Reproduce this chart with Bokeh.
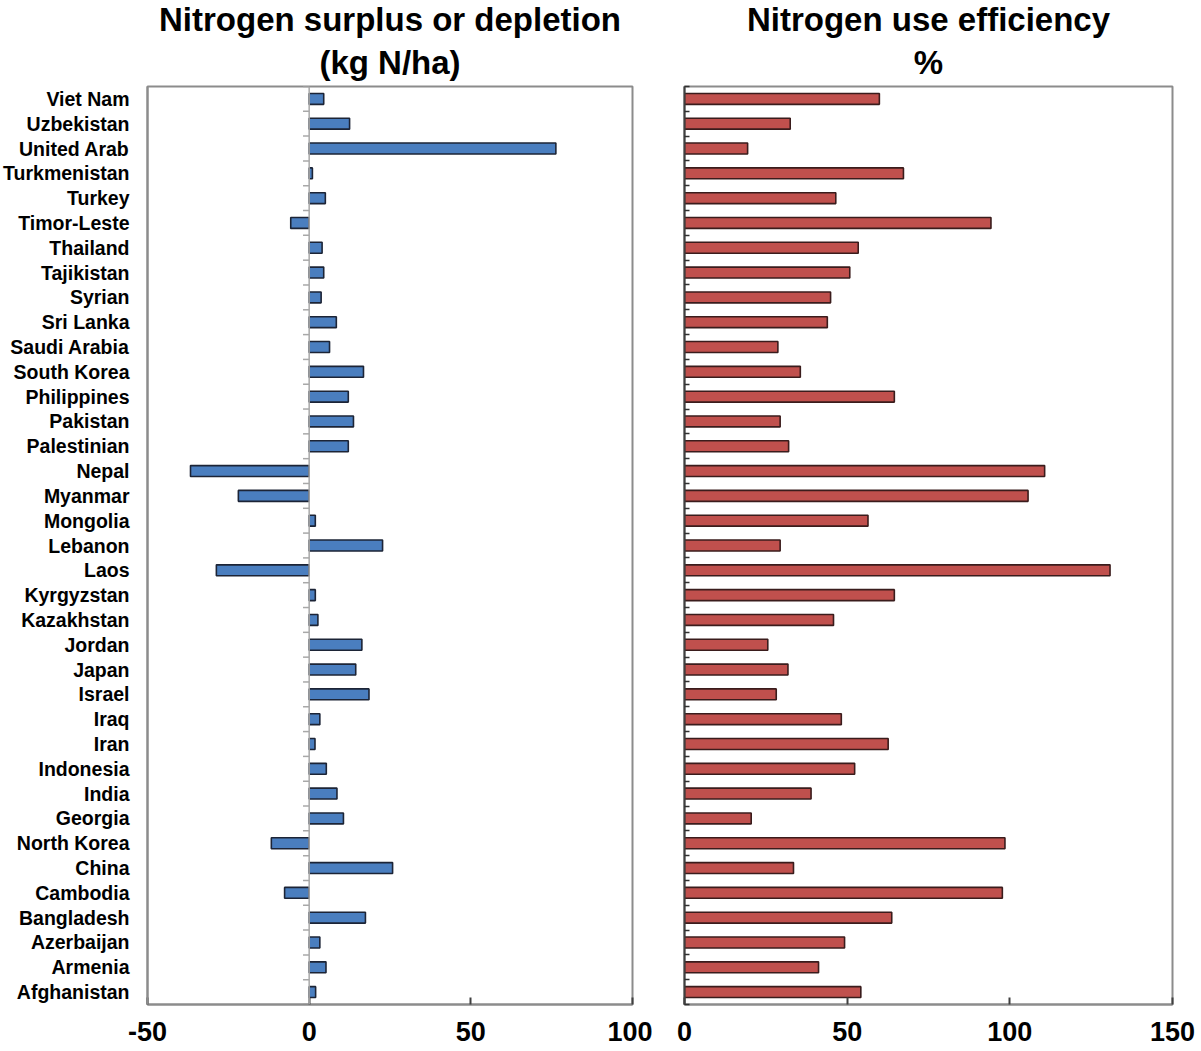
from bokeh.plotting import figure
from bokeh.layouts import row
from bokeh.models import Title, Span, FixedTicker, Range1d, ColumnDataSource
from bokeh.embed import file_html
from bokeh.resources import INLINE

# Top to bottom as shown
countries = ["Viet Nam", "Uzbekistan", "United Arab", "Turkmenistan", "Turkey", "Timor-Leste",
             "Thailand", "Tajikistan", "Syrian", "Sri Lanka", "Saudi Arabia", "South Korea",
             "Philippines", "Pakistan", "Palestinian", "Nepal", "Myanmar", "Mongolia", "Lebanon",
             "Laos", "Kyrgyzstan", "Kazakhstan", "Jordan", "Japan", "Israel", "Iraq", "Iran",
             "Indonesia", "India", "Georgia", "North Korea", "China", "Cambodia", "Bangladesh",
             "Azerbaijan", "Armenia", "Afghanistan"]

n_surplus = [4.5, 12.5, 76.3, 1.0, 5.0, -5.7, 4.0, 4.5, 3.7, 8.4, 6.3, 16.8, 12.1, 13.7, 12.1,
             -36.7, -21.9, 1.9, 22.7, -28.7, 1.9, 2.7, 16.3, 14.4, 18.5, 3.3, 1.8, 5.3, 8.6,
             10.6, -11.7, 25.8, -7.6, 17.4, 3.3, 5.2, 2.0]

n_efficiency = [59.9, 32.5, 19.4, 67.3, 46.5, 94.2, 53.4, 50.8, 44.9, 43.9, 28.7, 35.6, 64.5,
                29.4, 32.0, 110.7, 105.6, 56.4, 29.4, 130.8, 64.5, 45.8, 25.6, 31.8, 28.2, 48.2,
                62.6, 52.3, 38.9, 20.5, 98.5, 33.5, 97.7, 63.7, 49.2, 41.2, 54.2]

left_ticks = [-50, 0, 50, 100]
right_ticks = [0, 50, 100, 150]
left_tick_labels = {-50: "-50", 0: "0", 50: "50", 100: "100"}
right_tick_labels = {0: "0", 50: "50", 100: "100", 150: "150"}

left_title = ["Nitrogen surplus or depletion", "(kg N/ha)"]
right_title = ["Nitrogen use efficiency", "%"]

N = len(countries)
ypos = [N - 1 - i for i in range(N)]
bounds = [i + 0.5 for i in range(-1, N)]
labels = {ypos[i]: countries[i] for i in range(N)}

FONT = "Liberation Sans"
GRAY = "#8C8C8C"


def make_fig(xr, xticks, xlabels, titles, frame_w, border_left, border_right, show_labels):
    p = figure(width=10, height=10, frame_width=frame_w, frame_height=918,
               x_range=Range1d(*xr), y_range=Range1d(-0.5, N - 0.5),
               output_backend="svg", toolbar_location=None,
               min_border_left=border_left, min_border_right=border_right,
               min_border_top=13, min_border_bottom=0)
    p.xgrid.visible = False
    p.ygrid.visible = False
    p.outline_line_color = GRAY
    p.outline_line_width = 2
    p.background_fill_color = "white"
    p.border_fill_color = "white"

    # titles (first added is closest to frame)
    for k, t in enumerate(reversed(titles)):
        p.add_layout(Title(text=t, align="center", text_font=FONT, text_font_size="33px",
                           text_font_style="bold", text_color="black",
                           standoff=(12 if k == 0 else -4), offset=0), "above")

    xa = p.xaxis[0]
    xa.ticker = FixedTicker(ticks=xticks)
    xa.major_label_overrides = xlabels
    xa.axis_line_color = GRAY
    xa.axis_line_width = 2
    xa.major_tick_in = 7
    xa.major_tick_out = 0
    xa.major_tick_line_color = "#404040"
    xa.major_tick_line_width = 2
    xa.minor_tick_line_color = None
    xa.major_label_text_font = FONT
    xa.major_label_text_font_size = "27px"
    xa.major_label_text_font_style = "bold"
    xa.major_label_text_color = "black"
    xa.major_label_standoff = 17

    ya = p.yaxis[0]
    ya.ticker = FixedTicker(ticks=ypos, minor_ticks=bounds)
    ya.major_tick_in = 0
    ya.major_tick_out = 0
    if show_labels:
        ya.major_label_overrides = labels
        ya.major_label_text_font = FONT
        ya.major_label_text_font_size = "19.5px"
        ya.major_label_text_font_style = "bold"
        ya.major_label_text_color = "black"
        ya.major_label_standoff = 14
        ya.axis_line_color = GRAY
        ya.axis_line_width = 2
        ya.minor_tick_line_color = None
    else:
        ya.major_label_text_font_size = "0px"
        ya.major_label_text_color = None
        ya.major_label_standoff = 0
        ya.axis_line_color = "#404040"
        ya.axis_line_width = 2
        ya.minor_tick_in = 5
        ya.minor_tick_out = 0
        ya.minor_tick_line_color = "#303030"
        ya.minor_tick_line_width = 1.5
    return p


p1 = make_fig((-50, 100), left_ticks, left_tick_labels, left_title, 485, 145, 20, True)
p1.add_layout(Span(location=0, dimension="height", line_color="#A8A8A8", line_width=1.5))
src_t = ColumnDataSource(dict(y=bounds, x0=[-1.9] * len(bounds), x1=[0] * len(bounds)))
p1.segment(x0="x0", x1="x1", y0="y", y1="y", source=src_t, line_color="#A8A8A8", line_width=1.5)
p1.hbar(y=ypos, left=0, right=n_surplus, height=0.44, fill_color="#4A7EBF",
        line_color="#1C2436", line_width=1.6)

p2 = make_fig((0, 150), right_ticks, right_tick_labels, right_title, 488, 32, 24, False)
p2.hbar(y=ypos, left=0, right=n_efficiency, height=0.44, fill_color="#C0504D",
        line_color="#3A1C1C", line_width=1.6)

layout = row(p1, p2)
open("out.html", "w").write(file_html(layout, INLINE))
